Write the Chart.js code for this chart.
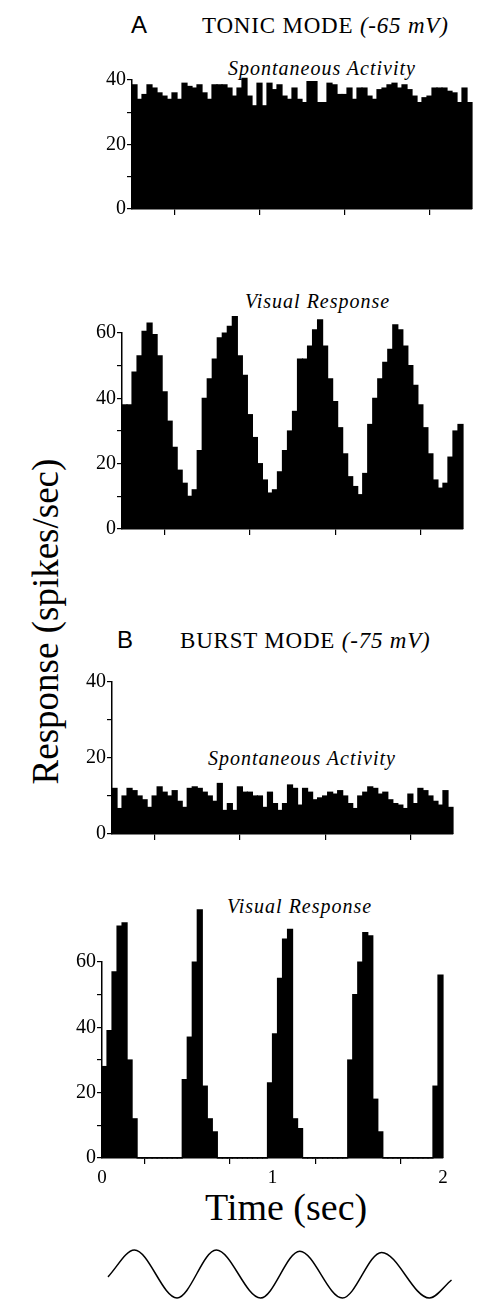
<!DOCTYPE html>
<html>
<head>
<meta charset="utf-8">
<script src="https://cdn.jsdelivr.net/npm/chart.js@4/dist/chart.umd.min.js"></script>
<style>
  body { margin: 0; background: #fff; width: 478px; height: 1306px; position: relative; overflow: hidden; }
  canvas, .txt { position: absolute; }
  .txt { font-family: "Liberation Serif", serif; color: #000; line-height: 1; white-space: nowrap; }
  .txt.sans { font-family: "Liberation Sans", Arial, sans-serif; font-size: 24px; }
  .it { font-style: italic; }
  .head { font-size: 23px; letter-spacing: 0.8px; }
  .sub { font-size: 20px; letter-spacing: 1px; font-style: italic; }
</style>
</head>
<body>

<div class="txt sans" style="left:131px;top:13px;">A</div>
<div class="txt head" style="left:202px;top:14px;">TONIC MODE <span class="it">(-65 mV)</span></div>
<div class="txt sub" style="left:228px;top:58px;">Spontaneous Activity</div>
<div class="txt sub" style="left:245px;top:291px;">Visual Response</div>

<div class="txt sans" style="left:117px;top:628px;">B</div>
<div class="txt head" style="left:180px;top:629px;">BURST MODE <span class="it">(-75 mV)</span></div>
<div class="txt sub" style="left:208px;top:748px;">Spontaneous Activity</div>
<div class="txt sub" style="left:227px;top:896px;">Visual Response</div>

<div class="txt" style="left:205px;top:1188px;font-size:38px;">Time (sec)</div>
<div class="txt" style="left:-155px;top:603px;width:400px;text-align:center;font-size:37px;transform:rotate(-90deg);">Response (spikes/sec)</div>

<canvas id="aSpont"></canvas>
<canvas id="aVis"></canvas>
<canvas id="bSpont"></canvas>
<canvas id="bVis"></canvas>
<canvas id="stim"></canvas>

<script>
// 68 bins over 2 s, values in spikes/sec
var nBins = 68;
var binTimes = [];
for (var i = 0; i < nBins; i++) binTimes.push((i + 0.5) * 2 / nBins);

var tonicSpont = [38.5,34,35.5,38.5,37.5,36,35,34,36,34, 39,38,37.5,38.5,36,34,38.5,38.5,38.5,37.5,
                  35,37.5,40.5,35,32,39,32,39,37,38.5, 35,34,37.5,34,33,39.5,39.5,33,33,39,
                  38.5,35.5,35.5,37.5,34,37.5,37.5,35,34,37, 37.5,38.5,39,37.5,38.5,37,35,33,34.5,35,
                  37.5,37.5,37.5,36.5,36,33,37.5,33];
var tonicVisual = [38,38,48,53,60.5,63,59.5,53,42,33, 25,18,14,10,12,24,40,46,52,58.5,
                   60,62,65,53,47,35,28,20,15,11, 12,17.5,24,30,36,52,52,56,61,64,
                   56,46,39,31,23,16,13,10.5,17,32, 40,46,51,55,62.5,61,56,50,44,38,
                   31,23,15,12.5,14,22,30,32];
var burstSpont = [12,6.7,10,12,11.4,10,9,7,10,12.4, 11,10,11.4,8.6,7,12,12.4,12,11,10,
                  8.6,13.3,6.2,8,6.2,12.4,11,11,10,10, 7,11,8,6.2,8,12.9,12,7.6,12,11,
                  9,9.5,10,11,10.5,11.4,10,8,6.7,10, 11,12.4,12,10.5,11,9,8,7.6,6.7,10.5,
                  8,12,11.4,10,8.6,7.6,11.4,7];
var burstVisual = [28,39,57,71,72,30,12,0,0,0, 0,0,0,0,0,0,24,37,60,76,
                   22,12,8,0,0,0,0,0,0,0, 0,0,0,23,38,55,67,70,12,9,
                   0,0,0,0,0,0,0,0,0,30, 50,60,69,68,18,8,0,0,0,0,
                   0,0,0,0,0,0,22,56];

// sine stimulus, turning points
var stimTimes = [0.035, 0.19, 0.44, 0.67, 0.93, 1.16, 1.41, 1.64, 1.92, 2.05];
var stimValues = [-0.12, 1, -1, 1, -1, 0.95, -1, 0.9, -1, -0.25];

function histogram(id, values, yMax, area, showTime) {
    var padTop = 60, padRight = 20, yW = 50;
    var xH = showTime ? 36 : 12;
    var cv = document.getElementById(id);
    var w = area.right - area.left + yW + padRight;
    var h = area.bottom - area.top + padTop + xH;
    cv.width = w; cv.height = h;
    cv.style.left = (area.left - yW) + 'px';
    cv.style.top = (area.top - padTop) + 'px';

    var pts = values.map(function(v, i) { return {x: binTimes[i], y: v}; });
    return new Chart(cv, {
        type: 'bar',
        data: {
            datasets: [{
                data: pts,
                backgroundColor: '#000',
                borderWidth: 0,
                barPercentage: 1,
                categoryPercentage: 1,
                inflateAmount: 0.6,
                clip: false
            }]
        },
        options: {
            responsive: false,
            animation: false,
            layout: {padding: {top: padTop, right: padRight, left: 0, bottom: 0}},
            plugins: {legend: {display: false}, tooltip: {enabled: false}},
            scales: {
                x: {
                    type: 'linear', min: 0, max: 2, offset: false,
                    afterFit: function(s) { s.height = xH; },
                    border: {display: true, color: '#000', width: 1.5},
                    grid: {drawOnChartArea: false, drawTicks: true, tickLength: 6, color: '#000', lineWidth: 1.2},
                    ticks: {
                        stepSize: 0.5, autoSkip: false, maxRotation: 0, padding: 3, color: '#000',
                        font: {family: 'Liberation Serif', size: 19},
                        callback: function(v) { return (showTime && v % 1 === 0) ? v : ''; }
                    }
                },
                y: {
                    min: 0, max: yMax,
                    afterFit: function(s) { s.width = yW; },
                    border: {display: true, color: '#000', width: 1.5},
                    grid: {drawOnChartArea: false, drawTicks: true, tickLength: 5, color: '#000', lineWidth: 1.2},
                    ticks: {
                        stepSize: 10, autoSkip: false, padding: 1, color: '#000',
                        font: {family: 'Liberation Serif', size: 20},
                        callback: function(v) { return v % 20 === 0 ? v : ''; }
                    }
                }
            }
        }
    });
}

histogram('aSpont', tonicSpont, 40, {left: 132, right: 472, top: 80, bottom: 210}, false);
histogram('aVis', tonicVisual, 60, {left: 122, right: 463, top: 333, bottom: 530}, false);
histogram('bSpont', burstSpont, 40, {left: 112, right: 453, top: 682, bottom: 835}, false);
histogram('bVis', burstVisual, 60, {left: 102, right: 443, top: 962, bottom: 1158}, true);

// stimulus trace under the time axis
var stimCv = document.getElementById('stim');
stimCv.width = 360; stimCv.height = 58;
stimCv.style.left = '102px';
stimCv.style.top = '1244px';
new Chart(stimCv, {
    type: 'line',
    data: {
        datasets: [{
            data: stimTimes.map(function(t, i) { return {x: t, y: stimValues[i]}; }),
            borderColor: '#000',
            borderWidth: 1.5,
            pointRadius: 0,
            cubicInterpolationMode: 'monotone',
            fill: false
        }]
    },
    options: {
        responsive: false,
        animation: false,
        layout: {padding: 0},
        plugins: {legend: {display: false}, tooltip: {enabled: false}},
        scales: {
            x: {type: 'linear', display: false, min: 0, max: 360 / 170.5},
            y: {display: false, min: -1.1667, max: 1.25}
        }
    }
});
</script>
</body>
</html>
